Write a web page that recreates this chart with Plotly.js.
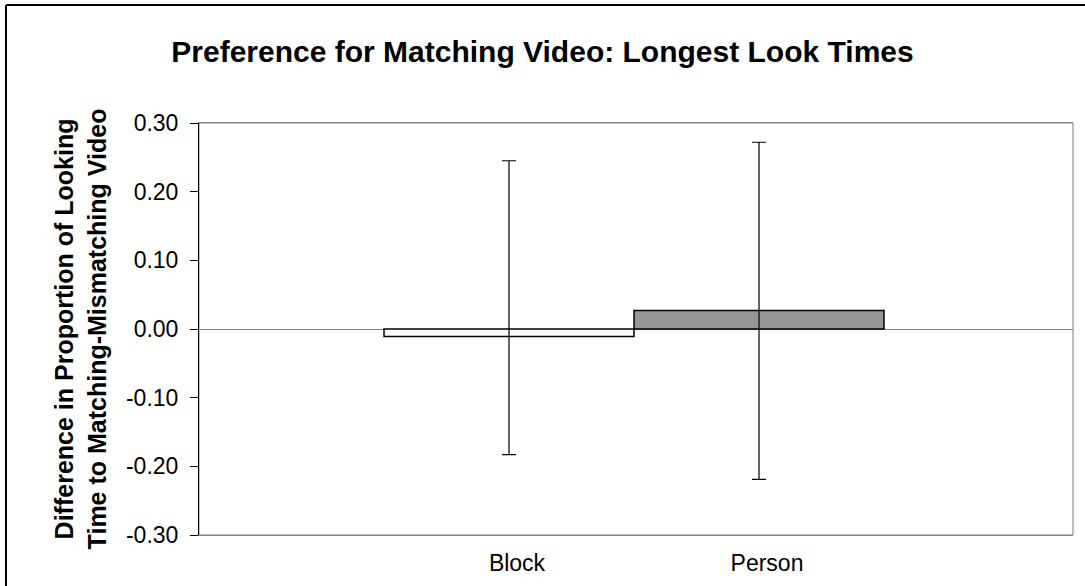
<!DOCTYPE html>
<html>
<head>
<meta charset="utf-8">
<script src="https://cdn.plot.ly/plotly-3.0.1.min.js"></script>
<style>html,body{margin:0;padding:0;background:#fff;}#chart{width:1085px;height:586px;}</style>
</head>
<body>
<div id="chart"></div>
<script>
const categories = ["Block", "Person"];
const values = [-0.011, 0.027];
const errPlus = [0.256, 0.245];
const errMinus = [0.172, 0.246];
const barColors = ["#ffffff", "#969696"];
const yTickVals = [-0.3, -0.2, -0.1, 0, 0.1, 0.2, 0.3];
const yTickText = ["-0.30", "-0.20", "-0.10", "0.00", "0.10", "0.20", "0.30"];

const FONT = "Liberation Sans, Arial, sans-serif";

const trace = {
  type: "bar",
  x: categories,
  y: values,
  width: 1,
  marker: { color: barColors, line: { color: "#000000", width: 1.5 } },
  error_y: {
    type: "data", symmetric: false,
    array: errPlus, arrayminus: errMinus,
    color: "#000000", thickness: 1.2, width: 7
  },
  hoverinfo: "skip",
  showlegend: false
};

const L = 199, R = 1073, T = 123, B = 535;
const pw = R - L, ph = B - T;
const bx = (6 - L) / pw;
const by = 1 + (T - 5) / ph;

const layout = {
  width: 1085, height: 586,
  margin: { l: L, r: 1085 - R, t: T, b: 586 - B, pad: 0 },
  paper_bgcolor: "#ffffff", plot_bgcolor: "#ffffff",
  font: { family: FONT, color: "#000000" },
  title: {
    text: "<b>Preference for Matching Video: Longest Look Times</b>",
    font: { family: FONT, size: 30, color: "#000000" },
    x: 0.5, xanchor: "center", xref: "container",
    y: 1 - 51 / 586, yanchor: "middle", yref: "container"
  },
  bargap: 0,
  xaxis: {
    type: "category",
    range: [-1.24, 2.256],
    showgrid: false, zeroline: false,
    showline: true, linecolor: "#808080", linewidth: 1, mirror: true,
    ticks: "", ticklabelshift: 8, ticklabelstandoff: 7,
    tickfont: { family: FONT, size: 23, color: "#000000" },
    fixedrange: true
  },
  yaxis: {
    range: [-0.3, 0.3],
    tickvals: yTickVals,
    ticktext: yTickText,
    showgrid: false,
    zeroline: true, zerolinecolor: "#808080", zerolinewidth: 1,
    showline: true, linecolor: "#000000", linewidth: 1,
    ticks: "outside", ticklen: 8, tickwidth: 1, tickcolor: "#000000",
    ticklabelstandoff: 7,
    tickfont: { family: FONT, size: 23, color: "#000000" },
    title: {
      text: "<b>Difference in Proportion of Looking<br>Time to Matching-Mismatching Video</b>",
      font: { family: FONT, size: 25, color: "#000000" },
      standoff: 12
    },
    fixedrange: true
  },
  shapes: [
    { type: "rect", xref: "paper", yref: "paper", x0: 0, x1: 1, y0: 0, y1: 1,
      line: { color: "#808080", width: 1 }, layer: "below" },
    { type: "line", xref: "paper", yref: "paper", x0: bx, x1: bx, y0: -0.2, y1: by,
      line: { color: "#000000", width: 2 } },
    { type: "line", xref: "paper", yref: "paper", x0: bx, x1: 1.2, y0: by, y1: by,
      line: { color: "#000000", width: 2 } }
  ]
};

Plotly.newPlot("chart", [trace], layout, { displayModeBar: false, staticPlot: true });
</script>
</body>
</html>
